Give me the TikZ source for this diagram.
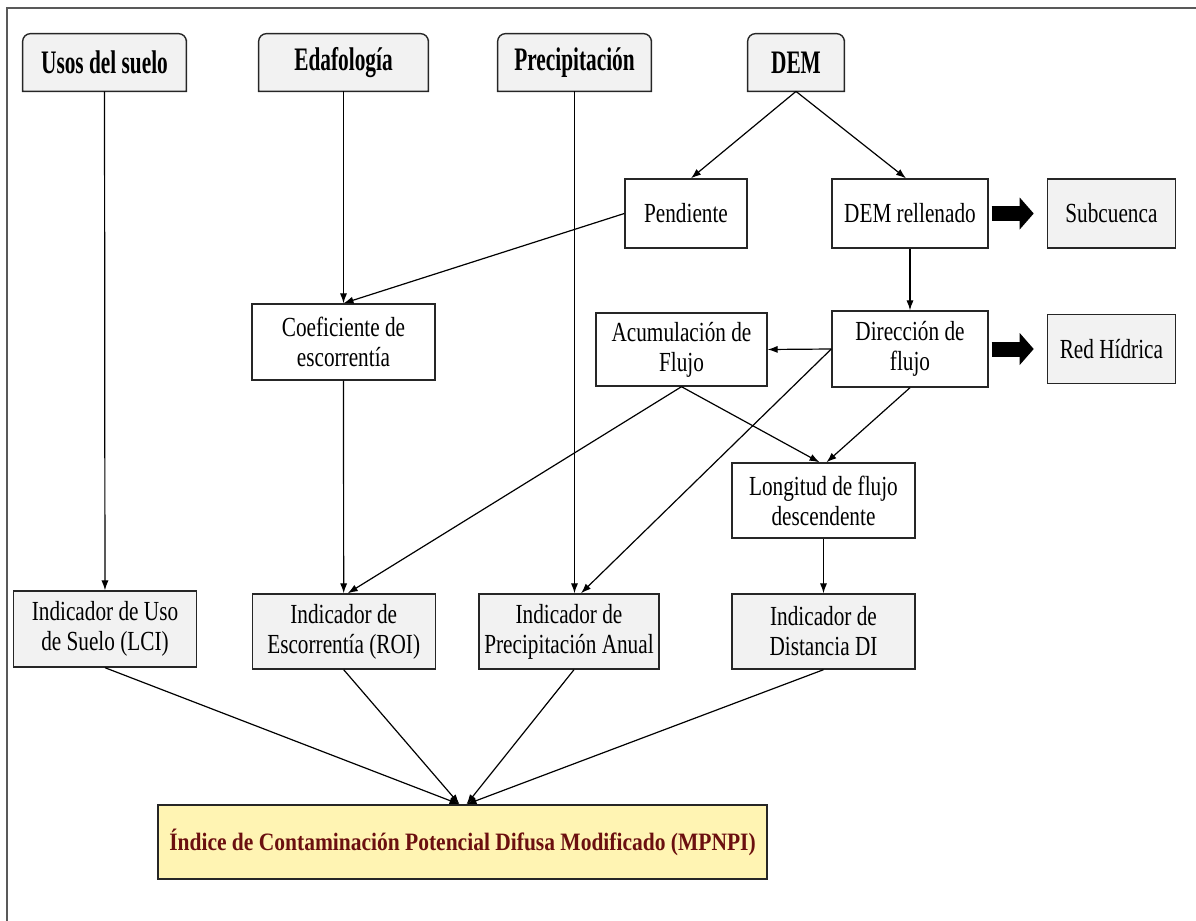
\documentclass[tikz,border=0pt]{standalone}
\usepackage{fontspec}
\setmainfont{Liberation Serif}[FakeStretch=0.77]
\newfontfamily\titlefont{Liberation Serif}[FakeStretch=0.65]
\newfontfamily\indexfont{Liberation Serif}[FakeStretch=0.86]
\usetikzlibrary{
	positioning,    %relative placement
	calc,           %offsets on anchors
	arrows.meta,    %arrow tips
	backgrounds     %outlines behind the titles
}
\definecolor{boxgray}{HTML}{F2F2F2}
\definecolor{mpyellow}{HTML}{FFF4B3}
\definecolor{mpred}{HTML}{6B0F0F}
\tikzset{
	every picture/.style={
		>={Latex[length=5pt,width=3.6pt]}
}}

\begin{document}
\begin{tikzpicture}[x=0.5pt,y=-0.5pt]
\tikzstyle{box}=[rectangle, draw=black!85, line width=0.7pt, inner sep=0pt, align=center, font=\fontsize{13.8}{15}\selectfont]
\tikzstyle{greybox}=[box, fill=boxgray]
\tikzstyle{source}=[rectangle, inner sep=0pt, minimum height=28.5pt, font=\titlefont\bfseries\fontsize{16.4}{18}\selectfont]
\tikzstyle{connect}=[->, line width=0.6pt]
\tikzstyle{bigarrow}=[line width=7.5pt, -{Triangle[length=7pt,width=16pt,line width=0pt]}, shorten <=1.5pt, shorten >=6.5pt]
\useasboundingbox (0,0) rectangle (1196,921);
\draw[black!65, line width=1.2pt] (7,921) -- (7,8) -- (1196,8);
% fuentes de datos
\node[source, minimum width=81.5pt] (usos) at (104.5,62.5) {Usos del suelo};
\node[source, minimum width=84.5pt] (edaf) at (343.5,62.5) {Edafología};
\node[source, minimum width=76.5pt] (prec) at (574.5,62.5) {Precipitación};
\node[source, minimum width=48pt] (dem) at (796,62.5) {DEM};
\begin{scope}[on background layer]
\foreach \n in {usos,edaf,prec,dem}
	\filldraw[fill=boxgray, draw=black!85, line width=0.7pt] (\n.south west) [rounded corners=4pt] -- (\n.north west) -- (\n.north east) -- ($(\n.north east)+(0,14)$) [sharp corners] -- (\n.south east) -- cycle;
\end{scope}
% procesos del DEM
\node[box, minimum width=61pt, minimum height=34.5pt] (pend) at (686,213.5) {Pendiente};
\node[box, minimum width=78pt, minimum height=34.5pt] (rell) at (910,213.5) {DEM rellenado};
\node[greybox, minimum width=64pt, minimum height=34.5pt] (subc) [right=29pt of rell] {Subcuenca};
\node[box, minimum width=91.5pt, minimum height=38pt] (coef) at (343.5,342) {Coeficiente de\\escorrentía};
\node[box, minimum width=85.5pt, minimum height=36.5pt] (acum) at (681.5,349.5) {Acumulación de\\Flujo};
\node[box, minimum width=78pt, minimum height=38pt] (dir) at (910,349) {Dirección de\\flujo};
\node[greybox, minimum width=64pt, minimum height=34.5pt] (red) [right=29pt of dir] {Red Hídrica};
\node[box, minimum width=91.5pt, minimum height=37.5pt] (long) at (823.5,500.5) {Longitud de flujo\\descendente};
% indicadores
\node[greybox, minimum width=91.5pt, minimum height=38pt] (lci) at (105,629) {Indicador de Uso\\de Suelo (LCI)};
\node[greybox, minimum width=91.5pt, minimum height=37.5pt] (roi) at (343.7,631.5) {Indicador de\\Escorrentía (ROI)};
\node[greybox, minimum width=90pt, minimum height=37.5pt] (pan) at (569,631.5) {Indicador de\\Precipitación Anual};
\node[greybox, minimum width=91.5pt, minimum height=37.5pt] (di) at (823.5,631.5) {Indicador de\\Distancia DI};
\node[box, fill=mpyellow, minimum width=304.5pt, minimum height=37pt, font=\indexfont\bfseries\fontsize{12.5}{14}\selectfont, text=mpred] (mp) at (462.5,842) {Índice de Contaminación Potencial Difusa Modificado (MPNPI)};
% conexiones
\path (usos) edge [connect] (lci)
(edaf) edge [connect] (coef)
(prec.south) edge [connect] (prec.south |- pan.north)
(dem.south) edge [connect] ($(pend.north)+(5,0)$)
(dem.south) edge [connect] ($(rell.north)+(-4,0)$)
(pend.west) edge [connect] (coef.north)
(rell) edge [connect] (dir)
(dir.west) edge [connect] (acum.east)
(coef) edge [connect] (roi)
(acum.south) edge [connect] ($(roi.north)+(4,0)$)
(dir.west) edge [connect] ($(pan.north)+(12,0)$)
(acum.south) edge [connect] ($(long.north)+(-4,0)$)
(dir.south) edge [connect] ($(long.north)+(3,0)$)
(long) edge [connect] (di);
\path (lci.south) edge [connect] ($(mp.north)+(-3,0)$)
(roi.south) edge [connect] ($(mp.north)+(-3,0)$)
($(pan.south)+(5,0)$) edge [connect] ($(mp.north)+(4,0)$)
(di.south) edge [connect] ($(mp.north)+(4,0)$);
\draw[bigarrow] (rell) -- (subc);
\draw[bigarrow] (dir) -- (red);
\end{tikzpicture}
\end{document}
